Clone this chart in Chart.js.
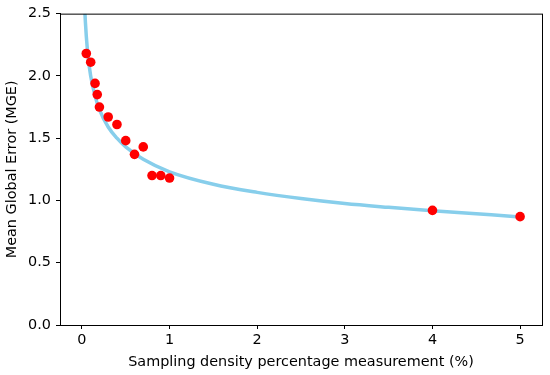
<!DOCTYPE html>
<html>
<head>
<meta charset="utf-8">
<script src="https://cdn.jsdelivr.net/npm/chart.js@4"></script>
<style>
  html, body { margin: 0; padding: 0; background: #fff; }
  #wrap { width: 550px; height: 375px; }
</style>
</head>
<body>
<div id="wrap"><canvas id="graph" width="550" height="375"></canvas></div>
<script>
// measured points (red dots)
const densityPct = [0.05, 0.1, 0.15, 0.175, 0.2, 0.3, 0.4, 0.5, 0.6, 0.7, 0.8, 0.9, 1.0, 4.0, 5.0];
const mgeValues = [2.18, 2.11, 1.94, 1.85, 1.75, 1.67, 1.61, 1.48, 1.37, 1.43, 1.20, 1.20, 1.18, 0.92, 0.87];

// fitted curve
const curveX = [0.035, 0.04, 0.05, 0.07, 0.1, 0.15, 0.2, 0.3, 0.4, 0.5, 0.7, 1.0, 1.5, 2.0, 2.5, 3.0, 3.5, 4.0, 4.5, 5.0];
const curveY = [2.50, 2.43, 2.32, 2.16, 2.00, 1.84, 1.73, 1.59, 1.50, 1.43, 1.33, 1.23, 1.13, 1.065, 1.015, 0.975, 0.945, 0.918, 0.893, 0.868];

const xTicks = [0, 1, 2, 3, 4, 5];
const yTicks = [0, 0.5, 1.0, 1.5, 2.0, 2.5];

Chart.defaults.font.family = "'DejaVu Sans', sans-serif";
Chart.defaults.color = "#000";

//draw the full box around the plot area like matplotlib does
const boxPlugin = {
    id: "box",
    afterDraw(chart) {
        const a = chart.chartArea;
        const ctx = chart.ctx;
        ctx.save();
        ctx.strokeStyle = "#000";
        ctx.lineWidth = 1;
        ctx.strokeRect(a.left + 0.5, a.top + 0.5, a.right - a.left, a.bottom - a.top);
        ctx.restore();
    }
};

const curvePts = curveX.map((x, i) => ({ x: x, y: curveY[i] }));
const dotPts = densityPct.map((x, i) => ({ x: x, y: mgeValues[i] }));

new Chart(document.getElementById("graph").getContext("2d"), {
    type: "scatter",
    data: {
        datasets: [{
            data: dotPts,
            backgroundColor: "#ff0000",
            borderWidth: 0,
            pointRadius: 4.8,
            order: 0
        }, {
            data: curvePts,
            showLine: true,
            borderColor: "#87ceeb",
            borderWidth: 3.5,
            pointRadius: 0,
            cubicInterpolationMode: "monotone",
            order: 1
        }]
    },
    options: {
        responsive: false,
        animation: false,
        layout: { padding: { top: 12, right: 8, left: 0, bottom: 0 } },
        plugins: { legend: { display: false }, tooltip: { enabled: false } },
        scales: {
            x: {
                type: "linear",
                min: -0.25,
                max: 5.25,
                afterBuildTicks: (s) => { s.ticks = xTicks.map(v => ({ value: v })); },
                afterFit: (s) => { s.height = 50; },
                grid: { display: true, drawOnChartArea: false, drawTicks: true, tickLength: 4, color: "#000" },
                border: { display: true, color: "#000" },
                ticks: { font: { size: 14.4 }, padding: 3, maxRotation: 0 },
                title: { display: true, text: "Sampling density percentage measurement (%)", font: { size: 14.4 }, padding: { top: 2, bottom: 4 } }
            },
            y: {
                type: "linear",
                min: 0,
                max: 2.5,
                afterBuildTicks: (s) => { s.ticks = yTicks.map(v => ({ value: v })); },
                afterFit: (s) => { s.width = 60; },
                grid: { display: true, drawOnChartArea: false, drawTicks: true, tickLength: 4, color: "#000" },
                border: { display: true, color: "#000" },
                ticks: { font: { size: 14.4 }, padding: 5, callback: (v) => v.toFixed(1) },
                title: { display: true, text: "Mean Global Error (MGE)", font: { size: 14.4 }, padding: { top: 4, bottom: 2 } }
            }
        }
    },
    plugins: [boxPlugin]
});
</script>
</body>
</html>
